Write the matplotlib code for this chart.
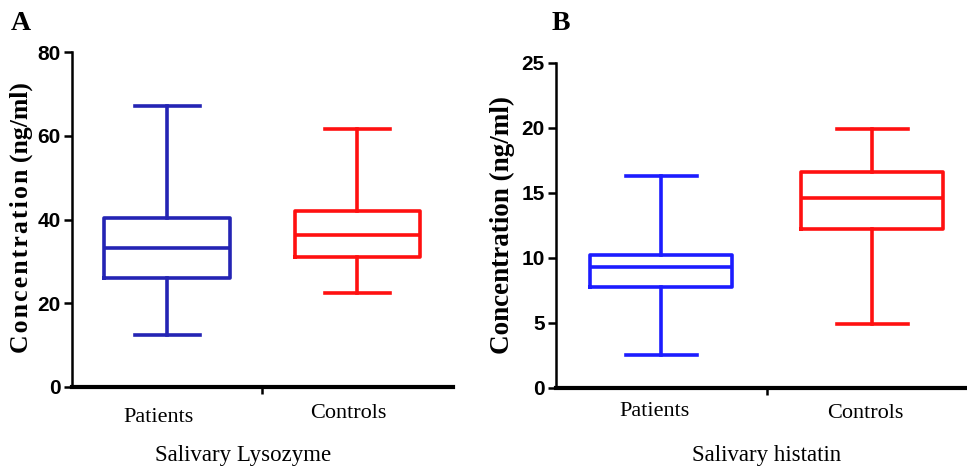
import matplotlib.pyplot as plt

groups = ['Patients', 'Controls']

# five-number summaries: min, q1, median, q3, max
lysozyme_min = [12.4, 22.4]
lysozyme_q1 = [26.0, 31.0]
lysozyme_med = [33.3, 36.3]
lysozyme_q3 = [40.3, 42.0]
lysozyme_max = [67.1, 61.6]

histatin_min = [2.5, 4.9]
histatin_q1 = [7.8, 12.2]
histatin_med = [9.3, 14.6]
histatin_q3 = [10.2, 16.6]
histatin_max = [16.3, 19.9]

W, H = 967.0, 470.0
serif = 'Liberation Serif'
tickfont = ['Liberation Sans Narrow', 'Liberation Sans']


def px(x, y):
    # pixel position -> figure fraction
    return x / W, 1 - y / H


def make_stats(mins, q1s, meds, q3s, maxs):
    stats = []
    for i in range(len(groups)):
        stats.append({'whislo': mins[i], 'q1': q1s[i], 'med': meds[i],
                      'q3': q3s[i], 'whishi': maxs[i], 'fliers': []})
    return stats


def draw_panel(ax, stats, colors, widths, capw, ylim, yticks, xlim):
    bp = ax.bxp(stats, positions=[1, 2], widths=widths, capwidths=capw,
                showfliers=False, patch_artist=False)
    for i, c in enumerate(colors):
        bp['boxes'][i].set(color=c, linewidth=2.6)
        bp['medians'][i].set(color=c, linewidth=2.6)
        for j in (2 * i, 2 * i + 1):
            bp['whiskers'][j].set(color=c, linewidth=2.6)
            bp['caps'][j].set(color=c, linewidth=2.6)
    ax.set_xlim(*xlim)
    ax.set_ylim(*ylim)
    ax.set_yticks(yticks)
    ax.set_xticks([1.5])
    ax.set_xticklabels([''])
    ax.spines['top'].set_visible(False)
    ax.spines['right'].set_visible(False)
    ax.spines['left'].set_linewidth(1.8)
    ax.spines['bottom'].set_linewidth(3)
    ax.tick_params(axis='y', direction='out', length=6, width=1.8, pad=2)
    ax.tick_params(axis='x', direction='out', length=5, width=1.8)
    for lab in ax.get_yticklabels():
        lab.set_fontfamily(tickfont)
        lab.set_fontweight('bold')
        lab.set_fontsize(15)


fig = plt.figure(figsize=(9.67, 4.70), dpi=100)

axA = fig.add_axes([0.0745, 0.1766, 0.3935, 0.7124])
draw_panel(axA, make_stats(lysozyme_min, lysozyme_q1, lysozyme_med, lysozyme_q3, lysozyme_max),
           ['#2424b4', '#ff1010'], 0.66, 0.34, (0, 80), [0, 20, 40, 60, 80], (0.5, 2.5))

axB = fig.add_axes([0.575, 0.1745, 0.425, 0.6915])
draw_panel(axB, make_stats(histatin_min, histatin_q1, histatin_med, histatin_q3, histatin_max),
           ['#1c1cff', '#ff1010'], 0.674, 0.337, (0, 25), [0, 5, 10, 15, 20, 25], (0.5, 2.45))

# y labels (panel A is letter-spaced in the original)
spaced = '\u200a'.join('Concentration') + ' (ng/ml)'
fig.text(*px(21, 218), spaced, rotation=90, ha='center', va='center',
         family=serif, fontweight='bold', fontsize=18.5)
fig.text(*px(502, 225), 'Concentration (ng/ml)', rotation=90, ha='center', va='center',
         family=serif, fontweight='bold', fontsize=19.5)

# category labels
fig.text(*px(158, 417), groups[0], ha='center', va='center', family=serif, fontsize=16)
fig.text(*px(348, 414), groups[1], ha='center', va='center', family=serif, fontsize=16)
fig.text(*px(655, 412), groups[0], ha='center', va='center', family=serif, fontsize=16)
fig.text(*px(865, 413), groups[1], ha='center', va='center', family=serif, fontsize=16)

# panel titles under the axes
fig.text(*px(243, 455), 'Salivary Lysozyme', ha='center', va='center', family=serif, fontsize=16.5)
fig.text(*px(767, 455), 'Salivary histatin', ha='center', va='center', family=serif, fontsize=16.5)

# panel letters
fig.text(*px(21, 23), 'A', family=serif, fontweight='bold', fontsize=20, ha='center', va='center')
fig.text(*px(561, 24), 'B', family=serif, fontweight='bold', fontsize=20, ha='center', va='center')

fig.savefig('out.png', dpi=100)
